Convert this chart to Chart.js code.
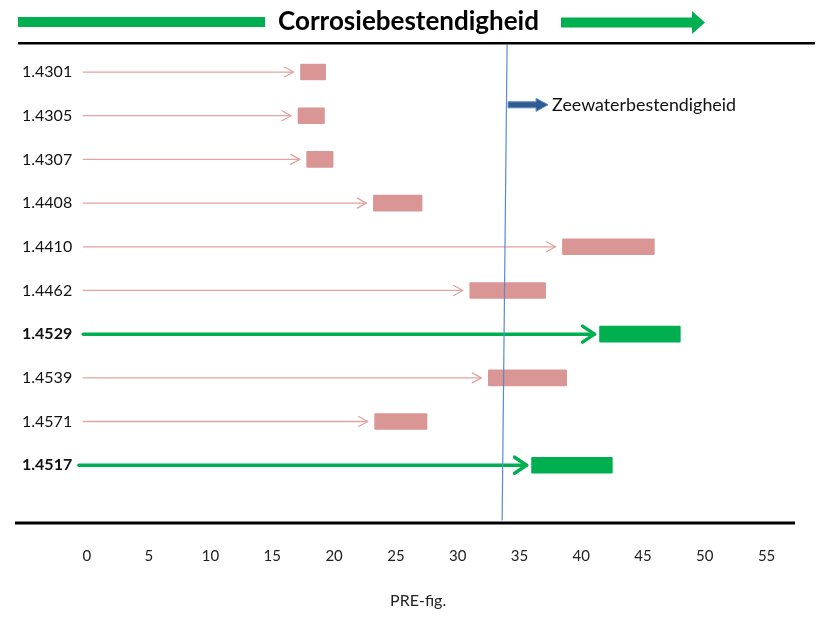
<!DOCTYPE html>
<html>
<head>
<meta charset="utf-8">
<script src="https://cdn.jsdelivr.net/npm/chart.js@4"></script>
<style>
  html, body { margin: 0; padding: 0; background: #fff; }
  #wrap { width: 825px; height: 621px; }
</style>
</head>
<body>
<div id="wrap"><canvas id="c" width="825" height="621"></canvas></div>
<script>
const grades   = ['1.4301','1.4305','1.4307','1.4408','1.4410','1.4462','1.4529','1.4539','1.4571','1.4517'];
const preMin   = [17.2, 17.0, 17.7, 23.1, 38.4, 30.9, 41.4, 32.4, 23.2, 35.9];
const preMax   = [19.4, 19.3, 20.0, 27.2, 46.0, 37.2, 48.1, 38.9, 27.6, 42.6];
const seawater = [false, false, false, false, false, false, true, false, false, true];
const arrowStart = [-0.3, -0.3, -0.3, -0.3, -0.3, -0.3, -0.3, -0.3, -0.3, -0.65];
const xTicks   = [0, 5, 10, 15, 20, 25, 30, 35, 40, 45, 50, 55];
const seawaterLimit = [34.0, 33.6];   // PRE at top / bottom of the reference line
const seawaterLabel = 'Zeewaterbestendigheid';
const titleText = 'Corrosiebestendigheid';
const xTitle = 'PRE-fig.';

const PINK = '#da9694', PINK_LINE = '#e2a3a1', GREEN = '#00b050';

const barData = grades.map((g, i) => ({ x: [preMin[i], preMax[i]], y: i }));

function drawArrow(ctx, x0, x1, y, color, lw, headLen, headHalf) {
  ctx.save();
  ctx.strokeStyle = color;
  ctx.lineWidth = lw;
  ctx.lineCap = 'round';
  ctx.lineJoin = 'round';
  ctx.beginPath();
  ctx.moveTo(x0, y);
  ctx.lineTo(x1, y);
  ctx.stroke();
  ctx.beginPath();
  ctx.moveTo(x1 - headLen, y - headHalf);
  ctx.lineTo(x1, y);
  ctx.lineTo(x1 - headLen, y + headHalf);
  ctx.stroke();
  ctx.restore();
}

const decor = {
  id: 'decor',
  beforeDatasetsDraw(chart) {
    const ctx = chart.ctx, xs = chart.scales.x, ys = chart.scales.y;
    grades.forEach((g, i) => {
      const y = ys.getPixelForValue(i);
      const x0 = xs.getPixelForValue(arrowStart[i]);
      const xb = xs.getPixelForValue(preMin[i]);
      if (seawater[i]) drawArrow(ctx, x0, xb - 4, y, GREEN, 3.5, 12, 8);
      else drawArrow(ctx, x0, xb - 6, y, PINK_LINE, 1.3, 9, 5);
    });
  },
  afterDraw(chart) {
    const ctx = chart.ctx, xs = chart.scales.x, ys = chart.scales.y;
    const area = chart.chartArea;
    ctx.save();
    // horizontal black rules
    ctx.strokeStyle = '#000';
    ctx.lineWidth = 2.5;
    ctx.beginPath(); ctx.moveTo(18, area.top); ctx.lineTo(815, area.top); ctx.stroke();
    ctx.lineWidth = 3;
    ctx.beginPath(); ctx.moveTo(15, area.bottom + 1); ctx.lineTo(795, area.bottom + 1); ctx.stroke();

    // title green arrows
    ctx.fillStyle = GREEN;
    ctx.fillRect(18, 17, 247, 10);
    ctx.beginPath();
    ctx.moveTo(561, 17.5); ctx.lineTo(692, 17.5); ctx.lineTo(692, 11);
    ctx.lineTo(705, 22.5); ctx.lineTo(692, 34); ctx.lineTo(692, 27.5);
    ctx.lineTo(561, 27.5); ctx.closePath(); ctx.fill();

    // seawater annotation arrow
    const y = ys.getPixelForValue(0.75);
    const xa = xs.getPixelForValue(seawaterLimit[0]) + 1;
    const xt = xa + 40;
    ctx.fillStyle = '#2f5b91';
    ctx.strokeStyle = '#5a88c4';
    ctx.lineWidth = 1;
    ctx.beginPath();
    ctx.moveTo(xa, y - 3); ctx.lineTo(xt - 12, y - 3); ctx.lineTo(xt - 12, y - 6.5);
    ctx.lineTo(xt, y); ctx.lineTo(xt - 12, y + 6.5); ctx.lineTo(xt - 12, y + 3);
    ctx.lineTo(xa, y + 3); ctx.closePath(); ctx.fill(); ctx.stroke();
    ctx.fillStyle = '#111';
    ctx.font = '16px Lato';
    const w = ctx.measureText(seawaterLabel).width;
    const size = 16 * 184 / w;
    ctx.font = size.toFixed(2) + 'px Lato';
    ctx.textBaseline = 'middle';
    ctx.textAlign = 'left';
    ctx.fillText(seawaterLabel, xt + 4, y);

    // x axis title
    ctx.fillStyle = '#222';
    ctx.font = '16px Lato';
    ctx.textAlign = 'center';
    ctx.fillText(xTitle, xs.getPixelForValue(26.8), area.bottom + 79);
    ctx.restore();
  }
};

new Chart(document.getElementById('c'), {
  type: 'bar',
  data: {
    datasets: [
      {
        type: 'line',
        data: [{ x: seawaterLimit[0], y: -0.62 }, { x: seawaterLimit[1], y: 10.26 }],
        borderColor: '#5a8ad0',
        borderWidth: 1.2,
        pointRadius: 0,
        order: 0,
        clip: false
      },
      {
        type: 'bar',
        data: barData,
        backgroundColor: grades.map((g, i) => seawater[i] ? GREEN : PINK),
        borderColor: 'rgba(255,255,255,0.7)',
        borderWidth: 1,
        borderSkipped: false,
        borderRadius: 2,
        barThickness: 18,
        order: 1
      }
    ]
  },
  options: {
    indexAxis: 'y',
    responsive: false,
    animation: false,
    layout: { padding: { left: 22, right: 30, top: 0, bottom: 8 } },
    plugins: {
      legend: { display: false },
      tooltip: { enabled: false },
      title: {
        display: true,
        text: titleText,
        color: '#000',
        font: { family: 'Lato', size: 26, weight: 'bold', lineHeight: 1.2 },
        padding: { top: 6, bottom: 6 }
      }
    },
    scales: {
      x: {
        type: 'linear',
        min: -1,
        max: 57.3,
        offset: false,
        grid: { display: false, drawTicks: false },
        border: { display: false },
        afterBuildTicks(scale) { scale.ticks = xTicks.map(v => ({ value: v })); },
        afterFit(scale) { scale.height = 91; },
        ticks: {
          padding: 25.6,
          color: '#222',
          font: { family: 'Lato', size: 15 },
          maxRotation: 0
        },
        title: { display: false }
      },
      y: {
        type: 'linear',
        reverse: true,
        offset: false,
        min: -0.66,
        max: 10.3,
        grid: { display: false, drawTicks: false, offset: false },
        border: { display: false },
        afterBuildTicks(scale) { scale.ticks = grades.map((g, i) => ({ value: i })); },
        afterFit(scale) { scale.width = 52.6; },
        ticks: {
          crossAlign: 'far',
          padding: 3,
          color: '#111',
          callback: (v) => grades[v] ?? '',
          font: (ctx) => ({
            family: 'Lato',
            size: 16,
            weight: (ctx.tick && seawater[ctx.tick.value]) ? 'bold' : 'normal'
          })
        }
      }
    }
  },
  plugins: [decor]
});
</script>
</body>
</html>
